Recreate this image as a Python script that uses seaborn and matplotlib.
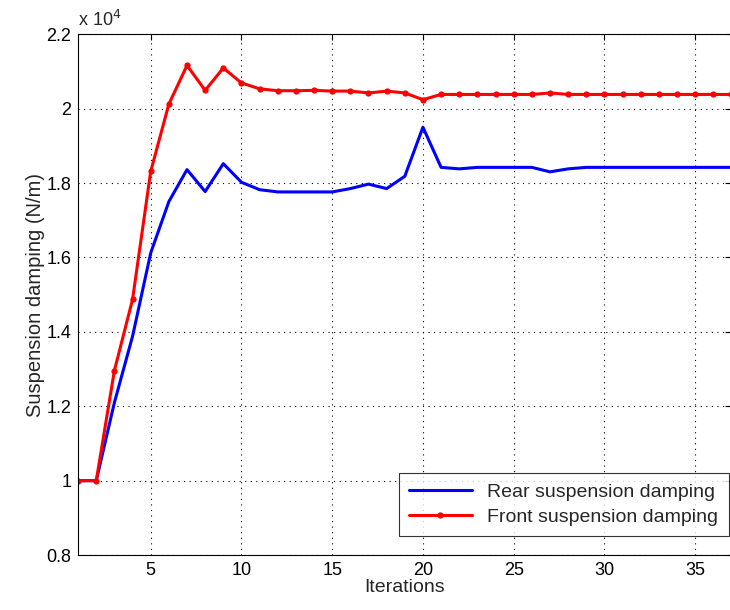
import numpy as np
import pandas as pd
import matplotlib
matplotlib.use("Agg")
import matplotlib.pyplot as plt
import matplotlib.ticker as mticker
import seaborn as sns

# iterations and damping values (N/m)
iterations = list(range(1, 38))
rear = [10000, 10000, 12100, 13880, 16120, 17500, 18360, 17770, 18520, 18020,
        17820, 17760, 17760, 17760, 17760, 17850, 17970, 17850, 18180, 19500,
        18420, 18380, 18420, 18420, 18420, 18420, 18300, 18380, 18420, 18420,
        18420, 18420, 18420, 18420, 18420, 18420, 18420]
front = [10000, 10000, 12960, 14870, 18310, 20120, 21160, 20490, 21090, 20690,
         20530, 20480, 20480, 20490, 20470, 20470, 20420, 20470, 20420, 20240,
         20380, 20380, 20380, 20380, 20380, 20380, 20420, 20380, 20380, 20380,
         20380, 20380, 20380, 20380, 20380, 20380, 20380]

df = pd.DataFrame({"Iterations": iterations, "rear": rear, "front": front})

sns.set_style("white")
plt.rcParams['font.family'] = ['Liberation Sans', 'DejaVu Sans']
plt.rcParams['font.size'] = 13

fig = plt.figure(figsize=(7.3, 6.1), dpi=100)
ax = fig.add_axes([0.107, 0.090, 0.895, 0.854])

sns.lineplot(data=df, x="Iterations", y="rear", ax=ax, color="blue", lw=2.2,
             label="Rear suspension damping")
sns.lineplot(data=df, x="Iterations", y="front", ax=ax, color="red", lw=2.2,
             marker="o", markersize=4.5, markeredgewidth=0,
             label="Front suspension damping")

ax.set_xlim(1, 37)
ax.set_ylim(8000, 22000)
ax.set_xticks([5, 10, 15, 20, 25, 30, 35])
ax.set_yticks(np.arange(8000, 22001, 2000))
ax.yaxis.set_major_formatter(mticker.FuncFormatter(lambda v, p: '%g' % round(v / 1e4, 2)))
ax.text(0.0, 1.008, r'x 10$^{4}$', transform=ax.transAxes, va='bottom', ha='left', fontsize=13)

ax.set_xlabel("Iterations", fontsize=14, labelpad=0)
ax.set_ylabel("Suspension damping (N/m)", fontsize=14.5, labelpad=1)
ax.tick_params(direction='in', top=True, right=True, length=4, width=0.8,
               labelsize=13, colors='k', pad=5)
ax.grid(True, linestyle=(0, (1, 4)), color='k', linewidth=0.8)
for s in ax.spines.values():
    s.set_color('k')
    s.set_linewidth(0.8)

leg = ax.legend(loc='lower right', bbox_to_anchor=(0.996, 0.036), fontsize=14,
                frameon=True, fancybox=False, edgecolor='k', borderaxespad=0,
                handlelength=3.2, borderpad=0.55, labelspacing=0.35)
leg.get_frame().set_linewidth(0.8)

fig.savefig("out.png", dpi=100)
